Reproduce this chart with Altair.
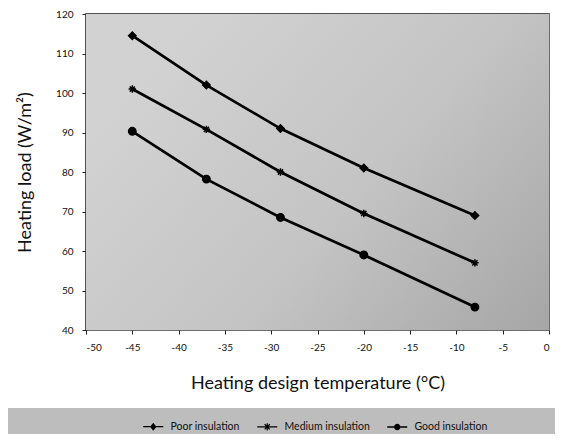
import altair as alt
import pandas as pd

# ---- data ----
temps = [-45, -37, -29, -20, -8]
poor = [114.5, 102.0, 91.0, 81.0, 69.0]
medium = [101.0, 90.8, 80.0, 69.5, 57.0]
good = [90.3, 78.2, 68.5, 59.0, 45.8]
series = ["Poor insulation", "Medium insulation", "Good insulation"]
x_ticks = list(range(-50, 1, 5))
y_ticks = list(range(40, 121, 10))

rows = []
for name, vals in zip(series, [poor, medium, good]):
    for t, v in zip(temps, vals):
        rows.append({"temp": t, "load": v, "series": name})
df = pd.DataFrame(rows)

W, H = 463, 316
FONT = "Lato"

marker_shapes = [
    "diamond",
    "M-1,0L1,0M0,-1L0,1M-0.7,-0.7L0.7,0.7M-0.7,0.7L0.7,-0.7",
    "circle",
]
# legend glyphs built from filled pieces: a short line through the marker
BAR = "M-2.5,-0.17L2.5,-0.17L2.5,0.17L-2.5,0.17Z"
legend_shapes = [
    BAR + "M0,-1L0.8,0L0,1L-0.8,0Z",
    BAR + "M-0.15,-0.9L0.15,-0.9L0.15,0.9L-0.15,0.9Z"
    "M-0.544,-0.756L0.756,0.544L0.544,0.756L-0.756,-0.544Z"
    "M0.756,-0.544L-0.544,0.756L-0.756,0.544L0.544,-0.756Z",
    BAR + "M-0.8,0A0.8,0.8,0,1,1,0.8,0A0.8,0.8,0,1,1,-0.8,0Z",
]

x_enc = alt.X(
    "temp:Q",
    scale=alt.Scale(domain=[-50, 0], nice=False, zero=False),
    axis=alt.Axis(values=x_ticks, title="Heating design temperature (°C)",
                  tickSize=4, labelPadding=8, titlePadding=22, labelExpr="datum.value"),
)
y_enc = alt.Y(
    "load:Q",
    scale=alt.Scale(domain=[40, 120], nice=False, zero=False),
    axis=alt.Axis(values=y_ticks, title="Heating load (W/m²)",
                  tickSize=4, labelPadding=9, titlePadding=21, labelExpr="datum.value"),
)

one = pd.DataFrame({"a": [0]})

bg = alt.Chart(one).mark_rect(
    color=alt.Gradient(
        gradient="linear",
        stops=[
            alt.GradientStop(color="#d2d2d2", offset=0),
            alt.GradientStop(color="#c4c4c4", offset=0.5),
            alt.GradientStop(color="#a6a6a6", offset=1),
        ],
        x1=0, y1=0.4, x2=1, y2=1,
    )
).encode(x=alt.value(0), x2=alt.value(W), y=alt.value(0), y2=alt.value(H))

band = alt.Chart(one).mark_rect(color="#bdbdbd").encode(
    x=alt.value(-78), x2=alt.value(W + 10), y=alt.value(394), y2=alt.value(H + 110)
)

lines = alt.Chart(df).mark_line(color="black", strokeWidth=2.7).encode(
    x=x_enc, y=y_enc, detail="series:N"
)

points = alt.Chart(df).mark_point(
    filled=True, color="black", stroke="black", strokeWidth=1.5, size=55, opacity=1
).encode(
    x=x_enc, y=y_enc,
    shape=alt.Shape("series:N", scale=alt.Scale(domain=series, range=marker_shapes), legend=None),
)

legend_layer = alt.Chart(df).transform_filter("false").mark_point(
    filled=True, color="black", size=64, opacity=1
).encode(
    x=x_enc, y=y_enc,
    shape=alt.Shape(
        "series:N",
        scale=alt.Scale(domain=series, range=legend_shapes),
        legend=alt.Legend(
            title=None, orient="none", direction="horizontal",
            legendX=62, legendY=407, padding=0,
            labelFont=FONT, labelFontSize=10.5, labelColor="#111",
            labelOffset=12, columnPadding=14, symbolSize=64,
            symbolFillColor="black", symbolOpacity=1,
        ),
    ),
)

chart = alt.layer(bg, band, lines, points, legend_layer).resolve_scale(
    shape="independent"
).properties(
    width=W, height=H,
    autosize=alt.AutoSizeParams(type="none"),
    padding={"left": 78, "top": 6, "right": 6, "bottom": 104},
).configure_view(
    stroke="#1a1a1a", strokeWidth=1.5
).configure_axis(
    grid=True, gridColor="#8a8a8a", gridWidth=0.7, gridOpacity=0.7,
    domain=False, zindex=1,
    labelFont=FONT, labelFontSize=10, labelColor="#111",
    tickColor="#222", titleFont=FONT, titleFontSize=18,
    titleFontWeight="normal", titleColor="#111",
)

chart.save("out.html", embed_options={"renderer": "svg", "actions": False})
